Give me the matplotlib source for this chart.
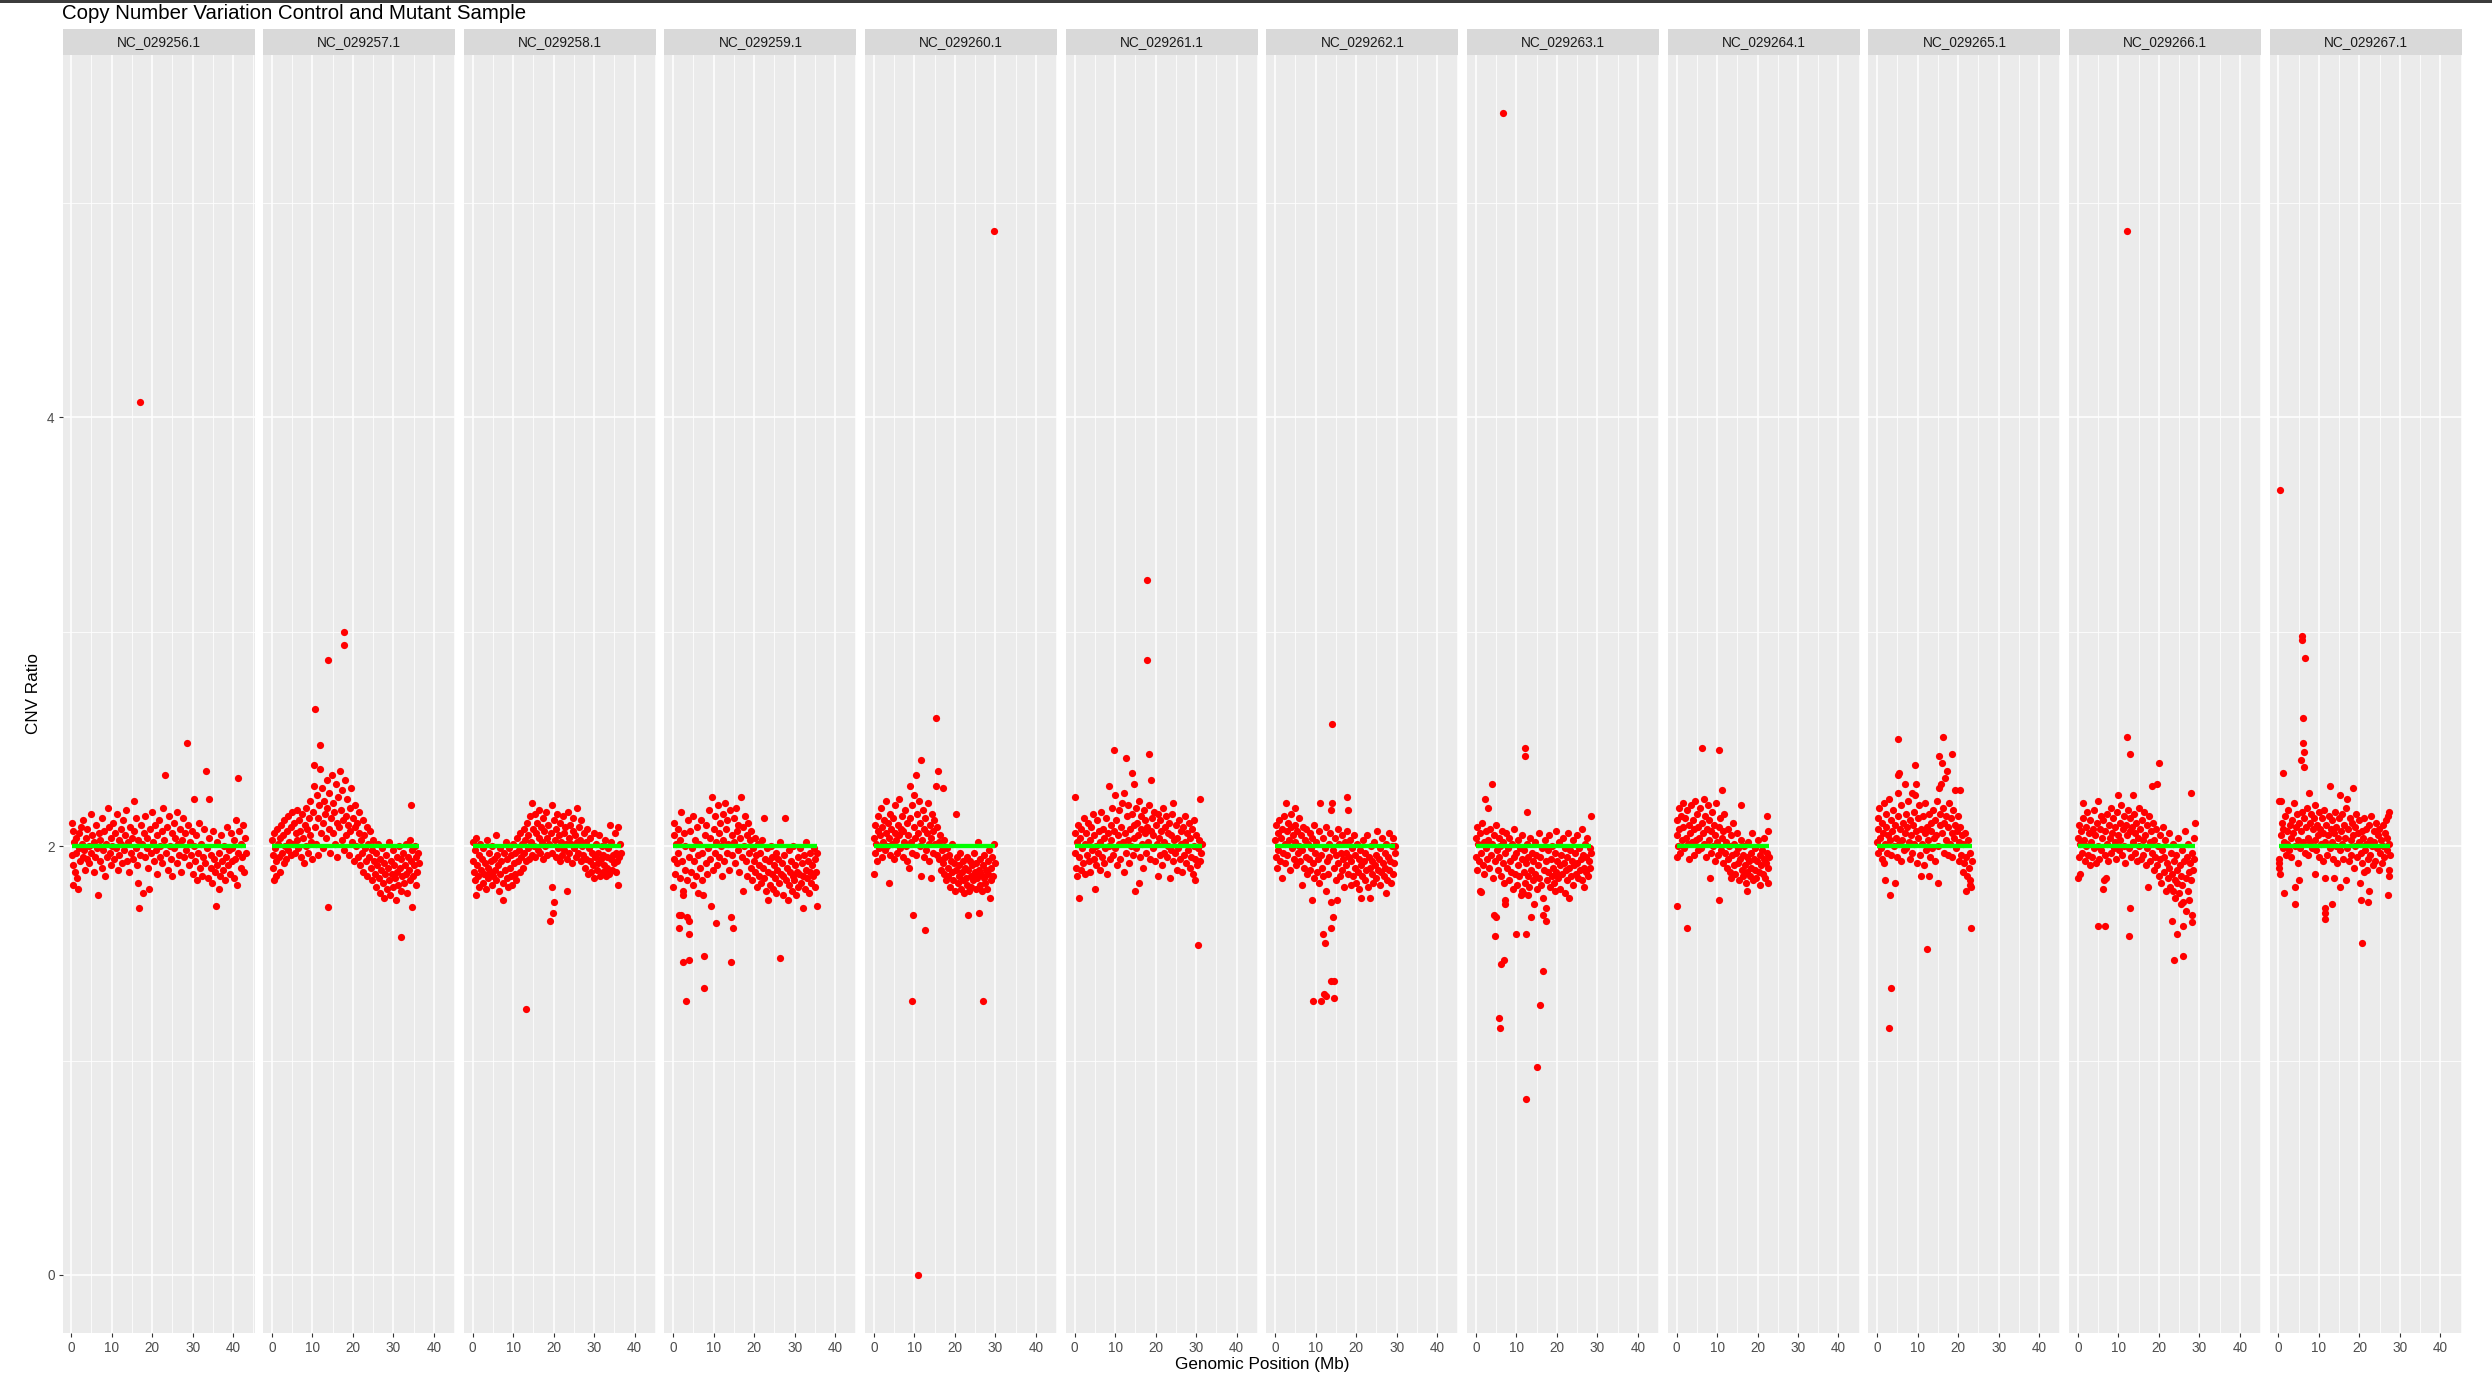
import matplotlib
matplotlib.use("Agg")
import matplotlib.pyplot as plt
from matplotlib.ticker import FixedLocator
from matplotlib.patches import Rectangle

plt.rcParams['font.family'] = ['Liberation Sans', 'DejaVu Sans']

# ---------------- data ----------------
title = "Copy Number Variation Control and Mutant Sample"
x_title = "Genomic Position (Mb)"
y_title = "CNV Ratio"
chromosomes = ["NC_029256.1", "NC_029257.1", "NC_029258.1", "NC_029259.1",
               "NC_029260.1", "NC_029261.1", "NC_029262.1", "NC_029263.1",
               "NC_029264.1", "NC_029265.1", "NC_029266.1", "NC_029267.1"]
x_ticks = [0, 10, 20, 30, 40]
y_ticks = [0, 2, 4]
control_level = 2.0

p256 = [(0.2,2.11),(0.3,1.96),(0.4,2.07),(0.4,1.82),(0.5,1.91),(0.7,2.02),(0.9,1.88),(1.1,2.04),(1.3,1.97),(1.5,1.85),(1.6,1.80),(1.8,2.06),(2.0,1.99),(2.2,1.93),(2.4,2.09),(2.6,2.01),(2.8,1.95),(3.0,2.12),(3.2,1.98),(3.4,1.89),(3.6,2.04),(3.8,1.94),(4.0,2.08),(4.3,2.00),(4.5,1.92),(4.8,2.15),(5.0,1.97),(5.2,2.05),(5.5,1.88),(5.7,2.02),(5.9,1.95),(6.1,2.10),(6.4,1.99),(6.6,1.77),(6.8,2.06),(7.0,1.93),(7.2,2.03),(7.5,1.90),(7.7,2.13),(7.9,1.98),(8.1,2.07),(8.4,1.86),(8.6,2.01),(8.8,1.95),(9.0,2.18),(9.3,2.09),(9.5,1.97),(9.7,2.04),(9.9,1.91),(10.1,2.00),(10.4,2.11),(10.6,1.94),(10.8,2.06),(11.0,1.99),(11.3,2.15),(11.5,1.89),(11.7,2.03),(11.9,1.96),(12.2,2.08),(12.4,2.01),(12.6,1.92),(12.9,2.12),(13.1,1.98),(13.3,2.05),(13.6,2.17),(13.8,1.93),(14.0,2.02),(14.3,1.88),(14.5,2.09),(14.7,1.97),(15.0,2.04),(15.2,1.94),(15.4,2.21),(15.6,2.07),(15.9,1.99),(16.1,2.13),(16.3,1.91),(16.5,2.03),(16.6,1.83),(16.7,1.71),(16.9,1.96),(17.0,4.07),(17.2,2.10),(17.4,2.01),(17.7,1.78),(17.9,2.06),(18.1,1.95),(18.3,2.14),(18.6,1.99),(18.8,2.04),(19.0,1.90),(19.3,1.80),(19.5,2.08),(19.7,1.97),(19.9,2.16),(20.2,2.02),(20.4,1.93),(20.6,2.10),(20.9,1.98),(21.1,2.05),(21.3,1.87),(21.6,2.12),(21.8,2.00),(22.0,1.95),(22.3,2.07),(22.5,1.92),(22.7,2.18),(23.0,2.03),(23.2,2.33),(23.4,1.97),(23.6,2.09),(23.9,1.89),(24.1,2.14),(24.3,2.00),(24.6,1.94),(24.8,2.06),(25.0,1.86),(25.3,2.11),(25.5,1.99),(25.7,2.04),(26.0,1.92),(26.2,2.16),(26.4,2.01),(26.7,1.96),(26.9,2.08),(27.1,1.88),(27.4,2.03),(27.6,2.13),(27.8,1.95),(28.1,2.06),(28.3,1.98),(28.7,2.48),(28.9,2.10),(29.1,1.91),(29.3,2.02),(29.6,1.96),(29.8,2.07),(30.0,1.87),(30.2,2.00),(30.4,2.22),(30.6,1.93),(30.9,2.05),(31.1,1.84),(31.3,1.97),(31.6,2.11),(31.8,1.90),(32.0,2.01),(32.3,1.86),(32.5,1.95),(32.7,2.08),(33.0,1.92),(33.3,2.35),(33.5,1.99),(33.7,1.85),(34.0,2.04),(34.1,2.22),(34.4,1.90),(34.6,1.96),(34.8,1.83),(35.1,2.07),(35.3,1.94),(35.5,1.88),(35.7,1.72),(35.9,2.02),(36.1,1.91),(36.4,1.97),(36.6,1.80),(36.8,1.86),(37.0,2.05),(37.3,1.93),(37.5,1.89),(37.7,2.00),(38.0,1.84),(38.2,1.95),(38.4,2.09),(38.7,1.91),(38.9,1.98),(39.1,1.87),(39.4,2.06),(39.6,1.93),(39.8,1.99),(40.1,1.85),(40.3,2.03),(40.5,1.94),(40.8,2.12),(41.0,1.82),(41.2,2.32),(41.3,1.97),(41.5,2.07),(41.8,1.90),(42.0,2.01),(42.2,1.95),(42.5,2.10),(42.7,1.88),(42.9,2.04),(43.1,1.97)]

p257 = [(0.1,2.03),(0.2,1.96),(0.3,1.90),(0.4,1.84),(0.6,2.06),(0.8,1.99),(1.0,1.93),(1.1,1.86),(1.3,2.08),(1.5,2.01),(1.7,1.95),(1.9,2.04),(2.1,1.88),(2.3,2.10),(2.5,1.97),(2.7,2.05),(2.9,1.92),(3.1,2.12),(3.3,2.00),(3.5,1.94),(3.7,2.07),(3.9,1.98),(4.1,2.14),(4.3,2.02),(4.6,1.96),(4.8,2.09),(5.0,2.16),(5.2,2.01),(5.4,2.11),(5.6,1.97),(5.9,2.06),(6.1,2.17),(6.3,2.03),(6.5,1.99),(6.8,2.12),(7.0,2.07),(7.2,1.95),(7.4,2.15),(7.6,2.04),(7.9,1.92),(8.1,2.10),(8.3,2.18),(8.5,2.00),(8.7,2.08),(8.9,1.97),(9.1,2.13),(9.3,2.05),(9.5,2.21),(9.7,2.02),(9.9,1.94),(10.1,2.16),(10.3,2.28),(10.5,2.38),(10.7,2.64),(10.6,2.09),(10.9,2.01),(11.1,2.24),(11.3,2.13),(11.5,1.96),(11.7,2.19),(11.9,2.47),(12.0,2.36),(12.1,2.06),(12.3,2.27),(12.5,2.11),(12.7,1.99),(12.9,2.21),(13.1,2.15),(13.3,2.04),(13.5,2.31),(13.7,2.18),(13.8,1.715),(13.9,2.87),(14.0,2.08),(14.2,2.25),(14.4,1.97),(14.6,2.13),(14.8,2.33),(15.0,2.20),(15.2,2.06),(15.4,2.16),(15.6,2.01),(15.8,2.29),(16.0,2.11),(16.2,1.95),(16.4,2.23),(16.6,2.09),(16.8,2.35),(17.0,2.17),(17.2,2.03),(17.4,2.26),(17.6,2.12),(17.9,3.00),(17.9,2.94),(17.8,1.98),(18.0,2.31),(18.2,2.14),(18.4,2.05),(18.6,2.22),(18.8,2.10),(19.0,1.96),(19.2,2.18),(19.4,2.07),(19.6,2.27),(19.8,2.02),(20.0,2.13),(20.2,1.93),(20.4,2.09),(20.6,2.19),(20.8,2.00),(21.0,2.11),(21.2,1.95),(21.4,2.06),(21.6,2.16),(21.8,1.91),(22.0,2.03),(22.2,1.97),(22.4,2.12),(22.6,1.88),(22.8,2.05),(23.0,1.99),(23.2,1.93),(23.4,2.09),(23.6,1.86),(23.8,2.01),(24.0,1.95),(24.2,2.07),(24.4,1.90),(24.6,1.98),(24.8,1.84),(25.0,2.03),(25.2,1.93),(25.4,1.87),(25.6,1.97),(25.8,1.81),(26.0,1.91),(26.2,2.01),(26.4,1.85),(26.6,1.94),(26.8,1.78),(27.0,1.89),(27.2,1.99),(27.4,1.83),(27.6,1.92),(27.8,1.76),(28.0,1.87),(28.2,1.96),(28.4,1.80),(28.6,1.90),(28.8,2.02),(29.0,1.84),(29.2,1.77),(29.4,1.93),(29.6,1.87),(29.8,1.98),(30.0,1.81),(30.2,1.91),(30.4,1.85),(30.6,1.75),(30.8,1.95),(31.0,1.88),(31.2,1.82),(31.4,2.00),(31.6,1.90),(31.9,1.575),(31.8,1.79),(32.0,1.94),(32.2,1.86),(32.4,1.97),(32.6,1.83),(32.8,1.91),(33.0,2.01),(33.2,1.87),(33.4,1.78),(33.6,1.95),(33.8,1.89),(34.0,2.03),(34.3,2.19),(34.2,1.84),(34.4,1.93),(34.6,1.715),(34.7,1.98),(34.9,1.86),(35.1,1.91),(35.3,2.00),(35.5,1.82),(35.7,1.95),(35.9,1.88),(36.1,1.97),(36.3,1.92)]

p258 = [(0.1,2.02),(0.2,1.93),(0.3,1.88),(0.5,1.98),(0.7,1.84),(0.8,1.77),(0.9,2.04),(1.1,1.91),(1.3,1.86),(1.5,1.96),(1.7,1.81),(1.9,2.01),(2.1,1.89),(2.3,1.94),(2.5,1.83),(2.7,1.99),(2.9,1.87),(3.1,1.92),(3.3,1.80),(3.5,2.03),(3.7,1.90),(3.9,1.85),(4.1,1.97),(4.3,1.88),(4.5,1.93),(4.7,1.82),(4.9,2.00),(5.1,1.86),(5.3,1.94),(5.5,1.89),(5.7,2.05),(5.9,1.84),(6.1,1.96),(6.3,1.91),(6.5,1.79),(6.7,1.99),(6.9,1.87),(7.1,1.93),(7.4,1.83),(7.6,1.75),(7.8,1.97),(8.0,1.89),(8.2,2.02),(8.4,1.85),(8.6,1.94),(8.8,1.81),(9.0,1.99),(9.2,1.90),(9.4,1.86),(9.6,1.96),(9.8,1.82),(10.0,2.01),(10.2,1.92),(10.4,1.87),(10.6,1.97),(10.8,1.84),(11.0,2.04),(11.2,1.93),(11.4,1.98),(11.6,1.88),(11.8,2.06),(12.0,1.95),(12.2,2.01),(12.4,1.90),(12.6,2.08),(12.8,1.97),(13.1,1.24),(13.0,2.03),(13.2,1.93),(13.4,2.11),(13.6,1.99),(13.8,2.05),(14.0,1.94),(14.2,2.14),(14.4,2.02),(14.6,1.96),(14.8,2.20),(14.9,2.08),(15.1,2.00),(15.3,2.15),(15.5,1.95),(15.7,2.06),(15.9,2.11),(16.1,1.98),(16.3,2.04),(16.5,2.17),(16.7,1.97),(16.9,2.09),(17.1,2.02),(17.3,2.13),(17.5,1.94),(17.7,2.07),(17.9,2.00),(18.1,2.16),(18.3,2.04),(18.5,1.96),(18.7,2.10),(18.9,2.01),(19.2,1.65),(19.7,2.19),(19.7,1.81),(19.9,1.69),(20.0,1.74),(19.4,2.06),(19.6,1.97),(20.1,2.12),(20.3,2.03),(20.5,1.95),(20.7,2.08),(20.9,2.15),(21.1,1.99),(21.3,2.05),(21.5,1.93),(21.7,2.11),(21.9,2.02),(22.1,1.96),(22.3,2.14),(22.5,2.06),(22.7,1.98),(22.9,2.09),(23.2,1.79),(23.1,2.01),(23.3,1.94),(23.5,2.16),(23.7,2.04),(23.9,1.97),(24.1,2.10),(24.3,2.01),(24.5,1.92),(24.7,2.07),(24.9,2.13),(25.1,1.99),(25.3,2.05),(25.5,1.95),(25.7,2.18),(25.9,2.02),(26.1,1.97),(26.3,2.09),(26.5,2.03),(26.7,1.93),(26.9,2.12),(27.1,2.00),(27.3,1.96),(27.5,2.06),(27.7,1.90),(27.9,2.02),(28.1,1.94),(28.3,2.08),(28.5,1.87),(28.7,1.99),(28.9,1.93),(29.1,2.04),(29.3,1.88),(29.5,1.97),(29.7,1.91),(29.9,2.06),(30.1,1.85),(30.3,1.95),(30.5,2.01),(30.7,1.89),(30.9,1.97),(31.1,1.92),(31.3,2.05),(31.5,1.86),(31.7,1.94),(31.9,2.00),(32.1,1.88),(32.3,1.96),(32.5,1.91),(32.7,2.03),(32.9,1.86),(33.1,1.95),(33.3,1.90),(33.5,1.99),(33.7,1.87),(34.0,2.10),(34.1,1.94),(34.3,2.02),(34.5,1.89),(34.7,1.96),(34.9,1.92),(35.1,2.06),(35.3,1.88),(35.5,1.97),(35.7,1.93),(35.9,1.82),(36.0,2.09),(36.2,1.95),(36.4,2.01),(36.6,1.97)]

p259 = [(0.0,1.81),(0.1,2.05),(0.2,1.94),(0.3,2.11),(0.5,1.87),(0.7,2.01),(0.9,1.92),(1.1,2.08),(1.3,1.97),(1.5,1.68),(1.5,1.62),(1.6,1.85),(1.8,2.03),(1.9,2.16),(2.0,1.68),(2.1,1.93),(2.3,1.79),(2.4,1.46),(2.5,1.77),(2.6,2.06),(2.8,1.89),(3.0,2.00),(3.2,1.28),(3.3,1.67),(3.4,1.84),(3.6,2.12),(3.8,1.59),(3.8,1.47),(3.9,1.65),(4.0,1.95),(4.2,2.07),(4.4,1.88),(4.6,1.99),(4.8,1.82),(5.0,2.14),(5.2,1.93),(5.4,2.03),(5.6,1.86),(5.8,2.09),(6.0,1.96),(6.2,1.78),(6.4,2.01),(6.6,1.90),(6.8,2.12),(7.0,1.84),(7.2,1.97),(7.4,1.77),(7.5,1.34),(7.6,1.49),(7.8,2.05),(8.0,1.92),(8.2,2.10),(8.4,1.87),(8.6,1.99),(8.8,2.17),(9.0,1.94),(9.2,2.04),(9.4,1.72),(9.6,2.23),(9.8,1.89),(10.0,2.08),(10.2,1.97),(10.5,1.64),(10.4,2.14),(10.6,2.02),(10.8,1.91),(11.0,2.19),(11.2,2.06),(11.4,1.95),(11.6,2.11),(11.8,2.00),(12.0,1.86),(12.2,2.15),(12.4,2.03),(12.6,1.93),(12.8,2.20),(13.0,2.08),(13.2,1.97),(13.4,2.12),(13.6,2.01),(13.8,1.89),(14.0,2.17),(14.2,1.67),(14.2,1.46),(14.4,2.05),(14.8,1.62),(14.6,1.96),(14.9,2.13),(15.1,2.02),(15.3,1.92),(15.5,2.18),(15.7,2.07),(15.9,1.98),(16.1,2.10),(16.3,1.88),(16.5,2.04),(16.8,2.23),(17.0,1.95),(17.2,1.79),(17.3,2.09),(17.5,2.00),(17.7,2.14),(17.9,1.93),(18.1,2.05),(18.3,1.86),(18.5,2.11),(18.7,1.97),(18.9,2.03),(19.1,1.90),(19.3,2.07),(19.5,1.84),(19.7,1.99),(19.9,1.93),(20.1,2.04),(20.3,1.88),(20.5,1.96),(20.7,1.81),(20.9,2.01),(21.1,1.91),(21.3,1.86),(21.5,1.97),(21.7,1.83),(21.9,2.03),(22.1,1.90),(22.3,2.13),(22.5,1.85),(22.7,1.94),(22.9,1.79),(23.1,1.99),(23.3,1.75),(23.5,1.88),(23.7,1.93),(23.9,1.82),(24.1,2.00),(24.3,1.87),(24.5,1.95),(24.7,1.80),(24.9,1.91),(25.1,1.85),(25.3,1.97),(25.5,1.78),(25.7,1.89),(25.9,1.94),(26.1,1.83),(26.3,1.48),(26.4,2.02),(26.6,1.87),(26.8,1.92),(27.0,1.77),(27.2,1.86),(27.4,1.96),(27.7,2.13),(27.9,1.84),(28.1,1.90),(28.3,1.75),(28.5,1.98),(28.7,1.82),(28.9,1.88),(29.1,1.93),(29.3,1.79),(29.5,1.86),(29.7,2.00),(29.9,1.84),(30.1,1.91),(30.3,1.77),(30.5,1.88),(30.7,1.95),(30.9,1.81),(31.1,1.87),(31.3,1.99),(31.5,1.83),(31.7,1.92),(32.0,1.71),(32.1,1.86),(32.3,1.96),(32.5,1.80),(32.7,1.89),(32.9,2.02),(33.1,1.85),(33.3,1.93),(33.5,1.78),(33.7,1.88),(33.9,1.97),(34.1,1.83),(34.3,1.91),(34.5,1.86),(34.7,1.99),(34.9,1.81),(35.1,1.94),(35.3,1.88),(35.5,1.72),(35.4,1.97)]

p260 = [(0.0,1.87),(0.1,2.04),(0.2,1.97),(0.3,2.10),(0.5,2.01),(0.7,1.93),(0.9,2.07),(1.1,2.14),(1.3,1.99),(1.5,2.05),(1.7,2.18),(1.9,1.95),(2.1,2.09),(2.3,2.02),(2.5,2.12),(2.7,1.98),(2.9,2.06),(3.1,2.21),(3.3,2.00),(3.5,2.11),(3.8,1.83),(3.7,2.04),(3.9,2.15),(4.1,1.96),(4.3,2.08),(4.5,2.01),(4.7,2.13),(4.9,1.94),(5.1,2.06),(5.3,2.19),(5.5,2.03),(5.7,1.97),(5.9,2.10),(6.1,2.05),(6.3,2.22),(6.5,1.99),(6.7,2.08),(6.9,2.14),(7.1,1.95),(7.3,2.07),(7.5,2.02),(7.7,2.17),(7.9,2.00),(8.1,2.11),(8.3,1.93),(8.5,2.05),(8.7,1.90),(8.9,2.28),(8.8,2.13),(9.1,2.02),(9.3,2.19),(9.4,1.28),(9.5,1.97),(9.7,1.68),(9.8,2.09),(10.0,2.24),(10.3,2.33),(10.2,2.04),(10.4,1.96),(10.6,2.15),(10.8,2.06),(11.0,0.0),(11.1,2.21),(11.3,2.00),(11.5,2.11),(11.7,2.40),(11.7,1.86),(11.9,2.03),(12.1,2.17),(12.3,1.95),(12.6,1.61),(12.5,2.08),(12.7,2.13),(12.9,1.98),(13.1,2.06),(13.3,2.20),(13.5,2.01),(13.7,1.93),(13.9,2.10),(14.2,1.85),(14.1,2.04),(14.3,2.15),(14.5,1.97),(14.7,2.07),(14.9,2.12),(15.1,2.01),(15.3,2.60),(15.4,2.28),(15.5,1.96),(15.7,2.09),(15.9,2.35),(16.0,2.02),(16.2,1.94),(16.4,2.05),(16.6,1.89),(16.8,1.98),(17.1,2.27),(17.0,1.92),(17.2,2.03),(17.4,1.87),(17.6,1.95),(17.8,1.84),(18.0,1.99),(18.2,1.90),(18.4,1.86),(18.6,1.96),(18.8,1.81),(19.0,1.93),(19.2,1.88),(19.4,2.01),(19.6,1.84),(19.8,1.92),(20.0,1.79),(20.2,1.89),(20.4,2.15),(20.5,1.95),(20.7,1.83),(20.9,1.91),(21.1,1.86),(21.3,1.97),(21.5,1.80),(21.7,1.88),(21.9,1.93),(22.1,1.84),(22.3,1.78),(22.5,1.90),(22.7,1.85),(22.9,1.95),(23.2,1.68),(23.1,1.82),(23.3,1.89),(23.5,1.79),(23.7,1.93),(23.9,1.86),(24.1,1.81),(24.3,1.91),(24.5,1.84),(24.7,1.97),(24.9,1.88),(25.1,1.80),(25.3,1.92),(25.5,1.85),(25.7,2.02),(26.0,1.69),(25.9,1.89),(26.1,1.94),(26.3,1.82),(26.5,1.87),(26.7,1.79),(26.9,1.91),(27.0,1.28),(27.1,1.85),(27.3,1.96),(27.5,1.83),(27.7,1.89),(27.9,1.80),(28.1,1.93),(28.3,1.87),(28.5,1.98),(28.7,1.76),(28.8,1.84),(29.0,1.90),(29.2,1.95),(29.4,1.86),(29.6,2.01),(29.7,4.87),(29.8,1.92)]

p261 = [(0.0,2.23),(0.1,1.97),(0.2,2.06),(0.3,1.90),(0.5,2.02),(0.7,1.86),(0.9,2.10),(1.2,1.76),(1.1,1.95),(1.3,2.04),(1.5,1.89),(1.7,2.08),(1.9,1.99),(2.1,1.92),(2.3,2.13),(2.5,2.01),(2.7,1.87),(2.9,2.06),(3.1,1.96),(3.3,2.11),(3.5,1.93),(3.7,2.03),(3.9,1.88),(4.1,2.09),(4.3,1.98),(4.5,2.15),(4.7,1.94),(4.9,2.05),(5.1,1.80),(5.2,2.00),(5.4,1.91),(5.6,2.12),(5.8,1.97),(6.0,2.07),(6.2,1.89),(6.4,2.02),(6.6,2.16),(6.8,1.95),(7.0,2.08),(7.2,1.92),(7.4,2.04),(7.6,1.99),(7.8,2.13),(8.0,1.87),(8.2,2.06),(8.4,2.00),(8.6,2.28),(8.7,1.94),(8.9,2.10),(9.1,2.03),(9.3,2.18),(9.5,1.96),(9.8,2.45),(9.7,2.07),(10.0,2.24),(10.1,1.99),(10.3,2.12),(10.5,1.91),(10.7,2.05),(10.9,2.17),(11.1,2.01),(11.3,1.94),(11.5,2.09),(11.7,2.20),(11.9,2.02),(12.1,1.88),(12.3,2.25),(12.4,2.06),(12.6,2.41),(12.7,1.97),(12.9,2.14),(13.1,2.03),(13.3,2.19),(13.5,1.92),(13.7,2.08),(13.9,2.00),(14.1,2.15),(14.3,2.34),(14.4,1.96),(14.7,2.29),(14.6,2.10),(14.8,2.04),(15.0,1.79),(15.1,2.18),(15.3,1.99),(15.5,2.11),(15.7,2.05),(16.0,1.83),(15.9,2.21),(16.1,1.95),(16.3,2.08),(16.5,2.14),(16.7,2.01),(16.9,1.90),(17.1,2.17),(17.3,2.06),(17.5,2.12),(17.7,1.97),(17.9,3.24),(17.9,2.87),(18.0,2.09),(18.3,2.43),(18.2,2.02),(18.4,2.19),(18.6,1.94),(18.8,2.31),(18.9,2.07),(19.1,2.13),(19.3,1.99),(19.5,2.05),(19.7,2.16),(19.9,1.93),(20.1,2.10),(20.3,2.01),(20.5,1.86),(20.6,2.15),(20.8,2.04),(21.0,1.96),(21.2,2.12),(21.4,2.07),(21.6,1.91),(21.8,2.18),(22.0,2.02),(22.2,1.97),(22.4,2.09),(22.6,2.14),(22.8,1.95),(23.0,2.06),(23.2,2.00),(23.4,2.11),(23.6,1.85),(23.7,1.98),(23.9,2.05),(24.1,2.15),(24.4,2.20),(24.3,1.93),(24.6,2.03),(24.8,1.97),(25.0,2.10),(25.2,1.89),(25.4,2.04),(25.6,1.99),(25.8,2.12),(26.0,1.94),(26.2,2.07),(26.4,2.01),(26.6,1.88),(26.8,2.09),(27.0,1.96),(27.2,2.14),(27.4,2.02),(27.6,1.92),(27.8,2.06),(28.0,1.98),(28.2,2.11),(28.4,1.90),(28.6,2.04),(28.8,1.95),(29.0,2.08),(29.2,1.87),(29.4,2.00),(29.7,1.84),(29.6,2.12),(29.8,1.94),(30.0,2.05),(30.2,1.91),(30.4,1.99),(30.6,1.54),(30.7,2.03),(30.9,1.93),(31.1,2.22),(31.2,1.97),(31.4,2.01)]

p262 = [(0.0,2.03),(0.1,1.95),(0.2,2.10),(0.4,1.90),(0.6,2.06),(0.8,1.98),(1.0,2.12),(1.2,1.93),(1.4,2.04),(1.6,1.85),(1.7,2.08),(1.9,1.97),(2.1,2.14),(2.3,2.01),(2.5,1.92),(2.7,2.20),(2.8,2.07),(3.0,1.96),(3.2,2.11),(3.4,2.03),(3.6,1.89),(3.8,2.09),(4.0,2.15),(4.2,1.99),(4.4,2.05),(4.6,1.94),(4.9,2.18),(4.8,2.10),(5.0,2.02),(5.2,1.91),(5.4,2.07),(5.6,1.97),(5.8,2.13),(6.0,2.00),(6.2,1.93),(6.4,2.05),(6.6,1.82),(6.7,1.98),(6.9,2.09),(7.1,1.90),(7.3,2.03),(7.5,1.95),(7.7,2.08),(7.9,1.87),(8.1,2.01),(8.3,1.94),(8.5,2.06),(8.7,1.89),(8.9,1.99),(9.2,1.75),(9.1,2.04),(9.4,1.28),(9.3,1.92),(9.5,2.10),(9.7,1.85),(9.9,1.97),(10.1,2.02),(10.3,1.88),(10.5,1.94),(10.7,2.07),(10.9,1.83),(11.1,2.20),(11.2,1.28),(11.3,1.96),(11.5,1.90),(11.7,2.04),(11.9,1.59),(11.9,1.86),(12.1,1.31),(12.2,1.55),(12.3,1.99),(12.6,1.79),(12.6,1.30),(12.5,2.09),(12.8,1.93),(13.0,1.87),(13.2,2.01),(13.4,1.95),(13.8,2.17),(13.8,1.74),(13.8,1.62),(13.9,1.37),(13.6,2.06),(14.0,2.57),(14.1,2.20),(14.2,1.67),(14.3,1.98),(14.4,1.37),(14.4,1.29),(14.5,1.90),(14.7,2.04),(14.9,1.84),(15.1,1.96),(15.3,1.75),(15.4,2.08),(15.6,1.92),(15.8,2.01),(16.0,1.86),(16.2,1.97),(16.4,2.05),(16.6,1.89),(16.8,1.94),(17.0,1.81),(17.2,2.02),(17.4,1.91),(17.7,2.23),(17.6,1.97),(17.8,2.07),(18.1,2.17),(18.0,1.87),(18.2,1.95),(18.4,2.03),(18.6,1.82),(18.8,1.93),(19.0,1.99),(19.2,1.86),(19.4,2.05),(19.6,1.90),(19.8,1.96),(20.0,1.83),(20.2,2.01),(20.4,1.88),(20.6,1.94),(20.8,1.80),(21.0,1.98),(21.2,1.76),(21.3,1.91),(21.5,1.86),(21.7,2.03),(21.9,1.93),(22.1,1.84),(22.3,1.97),(22.5,1.89),(22.7,2.05),(22.9,1.81),(23.1,1.95),(23.3,1.76),(23.4,1.90),(23.6,2.00),(23.8,1.87),(24.0,1.93),(24.2,1.83),(24.4,2.02),(24.6,1.91),(24.8,1.96),(25.0,1.85),(25.2,2.07),(25.4,1.89),(25.6,1.94),(25.8,1.82),(26.0,1.99),(26.2,1.88),(26.4,2.04),(26.6,1.92),(26.8,1.86),(27.0,1.97),(27.3,1.78),(27.2,1.90),(27.4,2.01),(27.6,1.84),(27.8,1.95),(28.0,2.06),(28.2,1.89),(28.4,1.93),(28.6,1.83),(28.8,2.00),(29.0,1.87),(29.2,2.04),(29.4,1.92),(29.6,1.97),(29.7,2.00)]

p263 = [(0.0,2.04),(0.1,1.95),(0.2,2.09),(0.4,1.89),(0.6,2.01),(0.8,1.93),(1.0,1.79),(1.1,2.06),(1.2,1.785),(1.3,1.97),(1.5,2.11),(1.7,1.91),(1.9,2.02),(2.1,1.87),(2.2,2.22),(2.4,1.99),(2.6,2.07),(2.8,1.94),(3.0,2.18),(3.1,2.03),(3.3,1.90),(3.5,2.08),(3.7,1.96),(3.9,2.01),(4.1,2.29),(4.2,1.85),(4.4,2.05),(4.5,1.68),(4.8,1.58),(4.9,1.67),(4.7,1.93),(5.0,2.10),(5.2,1.98),(5.4,1.89),(5.6,2.04),(5.8,1.20),(5.9,1.15),(5.8,1.95),(6.0,2.00),(6.1,1.45),(6.2,1.86),(6.4,2.07),(6.6,5.42),(6.6,1.92),(6.9,1.47),(6.8,2.02),(7.0,1.83),(7.1,1.75),(7.1,1.73),(7.3,1.97),(7.5,2.06),(7.7,1.90),(7.9,1.99),(8.1,1.84),(8.3,2.04),(8.5,1.93),(8.7,1.88),(8.9,2.01),(9.1,1.80),(9.3,1.95),(9.5,2.08),(9.8,1.59),(9.7,1.87),(9.9,1.97),(10.1,1.82),(10.3,2.03),(10.5,1.91),(10.7,1.86),(10.9,1.99),(11.1,1.77),(11.3,1.79),(11.3,1.94),(11.5,2.05),(11.7,1.78),(11.8,1.88),(12.1,2.42),(12.2,2.46),(12.0,1.98),(12.2,1.83),(12.5,1.59),(12.5,0.82),(12.4,1.92),(12.7,2.16),(12.6,2.01),(12.9,1.77),(12.8,1.86),(13.0,1.95),(13.2,1.81),(13.5,1.67),(13.4,2.04),(13.6,1.89),(13.8,1.97),(14.0,1.84),(14.2,1.93),(14.4,1.73),(14.5,2.02),(14.7,1.87),(14.9,1.96),(15.2,0.97),(15.1,1.80),(15.3,1.91),(15.5,2.06),(15.7,1.85),(15.9,1.26),(15.9,1.95),(16.1,1.82),(16.3,1.99),(16.6,1.68),(16.6,1.76),(16.6,1.42),(16.8,1.89),(17.0,2.03),(17.2,1.65),(17.4,1.71),(17.3,1.93),(17.5,1.84),(17.7,1.98),(17.9,1.88),(18.1,2.05),(18.3,1.81),(18.5,1.94),(18.7,1.86),(18.9,2.00),(19.1,1.90),(19.3,1.83),(19.6,1.79),(19.5,1.97),(19.7,2.07),(19.9,1.88),(20.1,1.93),(20.3,1.85),(20.5,2.02),(20.7,1.91),(20.9,1.80),(21.1,1.96),(21.3,1.87),(21.5,2.04),(21.7,1.92),(21.9,1.78),(22.0,1.99),(22.2,1.89),(22.4,1.84),(22.6,1.95),(22.8,2.06),(23.0,1.76),(23.1,1.90),(23.3,1.98),(23.5,1.86),(23.7,1.93),(23.9,2.03),(24.1,1.82),(24.3,1.91),(24.5,1.97),(24.7,1.87),(24.9,2.05),(25.1,1.92),(25.3,1.85),(25.5,1.99),(25.7,1.89),(25.9,1.94),(26.1,2.08),(26.3,1.84),(26.5,1.96),(26.8,1.81),(26.7,1.90),(26.9,2.01),(27.1,1.88),(27.3,1.95),(27.5,2.04),(27.7,1.86),(27.9,1.93),(28.1,1.99),(28.3,1.90),(28.4,2.14),(28.5,1.97)]

p264 = [(0.0,1.95),(0.1,2.05),(0.2,1.72),(0.2,2.12),(0.4,2.00),(0.5,2.18),(0.7,2.08),(0.9,1.97),(1.1,2.14),(1.3,2.03),(1.5,2.20),(1.7,2.09),(1.9,1.99),(2.1,2.13),(2.3,2.04),(2.5,2.17),(2.7,1.62),(2.8,2.01),(3.0,2.10),(3.2,1.94),(3.4,2.06),(3.6,2.19),(3.8,2.02),(4.0,2.12),(4.2,1.96),(4.4,2.08),(4.6,2.21),(4.8,2.03),(5.0,2.15),(5.2,1.98),(5.4,2.09),(5.6,2.04),(5.8,2.18),(6.0,1.99),(6.2,2.46),(6.3,2.11),(6.5,2.06),(6.7,2.22),(6.9,2.01),(7.1,2.14),(7.3,1.95),(7.5,2.08),(7.7,2.19),(7.9,2.03),(8.1,2.12),(8.3,1.85),(8.4,1.97),(8.6,2.07),(8.8,2.16),(9.0,2.00),(9.2,2.10),(9.4,1.93),(9.6,2.05),(9.8,2.20),(10.0,2.02),(10.2,1.96),(10.4,1.75),(10.5,2.45),(10.6,2.09),(10.8,2.13),(11.0,1.98),(11.3,2.26),(11.2,2.04),(11.4,1.92),(11.6,2.07),(11.8,2.15),(12.0,1.97),(12.2,2.02),(12.4,1.90),(12.6,2.08),(12.8,1.94),(13.0,2.00),(13.2,1.88),(13.4,1.85),(13.5,2.05),(13.7,1.96),(13.9,2.11),(14.1,1.91),(14.3,2.01),(14.5,1.87),(14.7,1.97),(14.9,2.06),(15.1,1.92),(15.3,1.99),(15.5,1.84),(15.7,1.94),(16.0,2.19),(15.9,2.03),(16.1,1.89),(16.3,1.96),(16.5,1.86),(16.7,2.00),(16.9,1.91),(17.1,1.83),(17.3,1.79),(17.3,1.95),(17.5,1.88),(17.7,2.02),(17.9,1.93),(18.1,1.86),(18.3,1.97),(18.5,1.90),(18.7,2.06),(18.9,1.84),(19.1,1.94),(19.3,1.89),(19.5,1.99),(19.7,1.85),(19.9,1.93),(20.1,2.03),(20.3,1.88),(20.5,1.96),(20.7,1.82),(20.9,1.91),(21.1,1.98),(21.3,1.87),(21.5,1.94),(21.7,2.04),(21.9,1.85),(22.1,1.92),(22.4,2.14),(22.3,1.97),(22.5,1.83),(22.6,1.90),(22.7,2.07),(22.8,1.95)]

p265 = [(0.0,2.02),(0.1,2.13),(0.2,1.97),(0.3,2.08),(0.5,2.18),(0.7,2.04),(0.9,1.99),(1.1,2.11),(1.2,1.94),(1.4,2.06),(1.6,1.92),(1.7,2.20),(1.9,2.01),(2.0,1.84),(2.1,2.09),(2.3,2.15),(2.5,1.97),(2.7,2.05),(2.9,2.22),(3.0,1.15),(3.1,1.77),(3.1,2.03),(3.3,1.34),(3.3,2.12),(3.5,1.96),(3.7,2.07),(3.9,2.17),(4.1,2.00),(4.3,1.83),(4.4,2.10),(4.6,2.04),(4.8,1.95),(5.1,2.50),(5.3,2.34),(5.1,2.33),(5.1,2.25),(5.2,2.14),(5.4,2.01),(5.6,2.08),(5.8,1.93),(6.0,2.19),(6.2,2.03),(6.4,2.11),(6.6,1.98),(6.9,2.29),(6.8,2.06),(7.0,2.15),(7.2,1.99),(7.4,2.09),(7.6,2.21),(7.8,2.02),(8.0,1.94),(8.2,2.12),(8.4,2.05),(8.7,2.25),(8.6,1.97),(8.8,2.10),(9.0,2.16),(9.2,2.01),(9.4,2.38),(9.4,2.24),(9.5,2.29),(9.6,2.07),(9.8,1.92),(10.0,2.13),(10.2,2.04),(10.4,2.19),(10.6,1.96),(10.8,1.86),(10.9,2.08),(11.1,2.01),(11.3,2.14),(11.5,1.91),(11.7,2.06),(11.9,2.20),(12.1,1.98),(12.4,1.52),(12.3,2.09),(12.5,2.03),(12.7,1.86),(12.8,2.15),(13.0,1.95),(13.2,2.07),(13.4,2.11),(13.6,1.99),(13.8,2.17),(14.0,2.04),(14.2,1.93),(14.4,2.12),(14.6,2.05),(14.8,2.21),(15.0,1.83),(15.2,2.27),(15.3,2.42),(15.1,2.00),(15.4,2.10),(15.6,2.15),(15.8,2.29),(15.9,2.39),(16.0,2.06),(16.3,2.51),(16.2,2.18),(16.4,1.97),(16.6,2.11),(16.8,2.32),(16.9,2.03),(17.1,2.14),(17.3,2.35),(17.4,1.96),(17.6,2.09),(17.8,2.20),(18.0,2.01),(18.2,2.13),(18.5,2.43),(18.4,2.06),(18.6,1.95),(18.8,2.17),(19.0,2.04),(19.2,2.26),(19.3,2.10),(19.5,1.99),(19.7,2.07),(19.9,2.14),(20.1,2.02),(20.4,2.26),(20.3,1.93),(20.5,2.09),(20.7,1.96),(20.9,2.05),(21.1,1.88),(21.3,2.01),(21.5,1.92),(21.7,2.06),(21.9,1.79),(22.0,1.95),(22.2,1.86),(22.4,2.03),(22.6,1.90),(22.8,1.84),(22.9,1.82),(23.0,1.97),(23.2,1.81),(23.2,1.62),(23.3,1.93)]

p266 = [(0.0,1.85),(0.1,2.04),(0.2,1.95),(0.3,2.10),(0.5,2.01),(0.6,1.87),(0.8,2.07),(1.0,1.97),(1.2,2.20),(1.3,2.13),(1.5,2.03),(1.7,1.93),(1.9,2.09),(2.1,2.00),(2.3,2.16),(2.5,1.96),(2.7,2.06),(2.9,1.91),(3.1,2.12),(3.3,2.02),(3.5,1.95),(3.7,2.08),(3.9,2.17),(4.1,1.99),(4.3,2.05),(4.5,1.92),(4.9,2.21),(4.7,2.11),(4.9,2.00),(5.1,1.63),(5.2,1.94),(5.4,2.08),(5.6,2.14),(5.8,1.98),(6.0,2.04),(6.2,1.80),(6.4,1.84),(6.3,2.12),(6.6,1.63),(6.6,1.96),(6.8,2.07),(7.0,1.85),(7.1,2.15),(7.3,2.01),(7.5,1.93),(7.7,2.10),(7.9,2.04),(8.1,2.18),(8.3,1.97),(8.5,2.06),(8.7,2.13),(8.9,1.99),(9.1,2.09),(9.3,2.02),(9.5,1.94),(9.7,2.16),(10.0,2.24),(9.9,2.05),(10.1,1.98),(10.3,2.11),(10.5,2.03),(10.7,2.19),(10.9,1.96),(11.1,2.08),(11.3,2.14),(11.5,2.00),(11.7,1.92),(11.9,2.10),(12.1,2.51),(12.1,4.87),(12.2,2.05),(12.4,2.17),(12.6,1.58),(12.6,1.99),(12.8,2.43),(12.8,2.07),(13.0,1.71),(13.0,2.13),(13.2,1.95),(13.4,2.09),(13.6,2.24),(13.6,2.02),(13.8,2.15),(14.0,1.97),(14.2,2.06),(14.4,2.11),(14.6,1.93),(14.8,2.04),(15.0,2.18),(15.2,2.00),(15.4,2.08),(15.6,1.94),(15.8,2.12),(16.0,2.03),(16.2,1.96),(16.4,2.16),(16.6,2.05),(16.8,1.91),(17.0,2.10),(17.2,1.99),(17.4,1.81),(17.5,2.14),(17.7,2.02),(17.9,1.93),(18.2,2.28),(18.1,2.07),(18.3,1.97),(18.5,2.11),(18.7,1.89),(18.9,2.03),(19.1,1.95),(19.5,2.29),(19.3,2.08),(19.6,1.91),(19.8,2.00),(20.0,2.39),(20.0,1.86),(20.2,2.05),(20.4,1.94),(20.6,1.83),(20.8,1.98),(21.0,2.09),(21.2,1.88),(21.4,1.95),(21.6,2.03),(21.8,1.79),(22.0,1.92),(22.2,1.85),(22.4,2.06),(22.6,1.90),(22.8,1.81),(23.0,1.97),(23.2,1.65),(23.4,1.79),(23.3,1.87),(23.5,2.01),(23.8,1.47),(23.7,1.93),(23.9,1.84),(24.1,1.76),(24.4,1.59),(24.3,1.96),(24.6,1.83),(24.5,1.89),(24.8,2.04),(25.0,1.78),(25.2,1.91),(25.5,1.73),(25.4,1.86),(25.6,1.98),(25.9,1.49),(26.0,1.63),(26.0,1.74),(25.8,1.82),(26.2,1.93),(26.4,2.07),(26.6,1.85),(26.8,1.70),(27.1,1.79),(27.0,1.95),(27.2,2.01),(27.5,1.75),(27.4,1.88),(27.7,1.92),(27.9,2.25),(28.0,1.84),(28.1,1.68),(28.2,1.645),(28.3,1.97),(28.5,1.89),(28.7,2.04),(28.9,2.11),(28.8,1.94)]

p267 = [(0.2,1.94),(0.25,1.92),(0.25,1.90),(0.3,3.66),(0.25,2.21),(0.4,1.87),(0.5,2.05),(0.7,2.21),(0.8,2.11),(1.0,1.99),(1.1,2.34),(1.2,2.08),(1.3,1.78),(1.4,2.02),(1.6,2.14),(1.8,1.96),(2.0,2.07),(2.2,2.01),(2.4,2.17),(2.6,1.98),(2.8,2.10),(3.0,2.04),(3.2,1.95),(3.4,2.12),(3.6,2.06),(3.8,2.20),(4.0,2.00),(4.1,1.81),(4.2,1.73),(4.3,2.09),(4.5,2.15),(4.7,2.03),(4.9,1.92),(5.0,1.84),(5.1,2.11),(5.3,1.99),(5.6,2.40),(5.7,2.98),(5.7,2.96),(5.5,2.07),(6.0,2.48),(6.1,2.60),(6.2,2.44),(6.4,2.37),(6.5,2.88),(5.8,2.16),(6.0,2.02),(6.3,2.13),(6.6,1.97),(6.8,2.09),(7.0,2.18),(7.2,2.04),(7.4,1.96),(7.6,2.25),(7.7,2.11),(7.9,2.02),(8.1,2.15),(8.3,1.99),(8.5,2.08),(8.7,2.13),(9.0,1.87),(8.9,2.03),(9.1,2.19),(9.3,1.98),(9.5,2.10),(9.7,2.05),(9.9,2.16),(10.1,1.95),(10.3,2.08),(10.5,2.01),(10.7,2.13),(10.9,1.93),(11.1,2.06),(11.3,2.17),(11.5,1.85),(11.5,1.71),(11.5,1.69),(11.5,1.66),(11.6,2.02),(11.8,2.10),(12.0,1.96),(12.2,2.05),(12.4,2.14),(12.6,1.99),(12.8,2.28),(12.9,2.08),(13.2,1.73),(13.1,2.02),(13.3,2.12),(13.6,1.85),(13.5,1.94),(13.7,2.06),(13.9,2.16),(14.1,2.00),(14.3,2.09),(14.5,1.92),(14.7,2.04),(15.1,1.81),(14.9,2.13),(15.3,2.24),(15.2,1.98),(15.4,2.07),(15.6,2.15),(15.8,2.01),(16.0,1.94),(16.2,2.10),(16.4,2.04),(16.6,1.84),(16.7,2.18),(16.9,2.22),(17.0,1.99),(17.2,2.08),(17.4,1.93),(17.6,2.13),(17.8,2.03),(18.0,1.96),(18.3,2.27),(18.2,2.11),(18.4,2.05),(18.6,1.90),(18.8,2.09),(19.0,2.00),(19.2,2.15),(19.4,1.95),(19.6,2.06),(19.8,2.02),(20.1,1.83),(20.0,2.12),(20.4,1.75),(20.6,1.55),(20.3,1.97),(20.5,2.07),(20.7,1.92),(21.0,1.88),(20.9,2.04),(21.1,2.13),(21.3,1.98),(21.5,2.08),(21.8,1.89),(21.7,2.01),(22.2,1.74),(22.4,1.79),(22.0,1.94),(22.3,2.10),(22.5,2.03),(22.7,1.96),(22.9,2.14),(23.1,2.00),(23.3,1.91),(23.5,2.07),(23.7,2.02),(23.9,1.93),(24.1,2.11),(24.3,1.99),(24.5,2.05),(24.7,1.89),(24.9,2.08),(25.1,1.97),(25.3,2.03),(25.5,1.92),(25.7,2.10),(25.9,2.00),(26.1,1.95),(26.3,2.06),(26.5,2.12),(26.7,1.98),(26.9,2.04),(27.1,1.77),(27.2,1.89),(27.3,1.86),(27.0,2.14),(27.2,2.16),(27.4,2.01),(27.6,1.96)]

panels = [p256, p257, p258, p259, p260, p261, p262, p263, p264, p265, p266, p267]

# ---------------- layout ----------------
W, H, DPI = 2492, 1388, 100
fig = plt.figure(figsize=(W / DPI, H / DPI), dpi=DPI)
fig.patch.set_facecolor("white")

# thin dark band at the very top
fig.patches.append(Rectangle((0, 1 - 3 / H), 1, 3 / H, transform=fig.transFigure,
                             facecolor="#3c3c3c", edgecolor="none"))

all_x = [p[0] for pts in panels for p in pts]
all_y = [p[1] for pts in panels for p in pts]
xr = max(all_x) - min(all_x)
yr = max(all_y) - min(all_y)
xlim = (min(all_x) - 0.05 * xr, max(all_x) + 0.05 * xr)
ylim = (min(all_y) - 0.05 * yr, max(all_y) + 0.05 * yr)

left0, pitch, pw = 62.5, 200.66, 192.0
strip_top, panel_top, panel_bottom = 29.0, 55.0, 1333.0

for i, (name, pts) in enumerate(zip(chromosomes, panels)):
    l = left0 + i * pitch
    ax = fig.add_axes([l / W, 1 - panel_bottom / H, pw / W, (panel_bottom - panel_top) / H])
    ax.set_facecolor("#EBEBEB")
    for s in ax.spines.values():
        s.set_visible(False)
    ax.set_xlim(xlim)
    ax.set_ylim(ylim)
    ax.xaxis.set_major_locator(FixedLocator(x_ticks))
    ax.xaxis.set_minor_locator(FixedLocator([5, 15, 25, 35, 45]))
    ax.yaxis.set_major_locator(FixedLocator(y_ticks))
    ax.yaxis.set_minor_locator(FixedLocator([1, 3, 5]))
    ax.set_axisbelow(True)
    ax.grid(which="major", color="white", linewidth=1.1)
    ax.grid(which="minor", color="white", linewidth=0.55)
    ax.tick_params(which="minor", length=0)
    ax.tick_params(which="major", length=3.1, width=0.8, color="#333333",
                   labelsize=9.8, labelcolor="#4D4D4D", pad=2.5)
    if i > 0:
        ax.tick_params(axis="y", left=False, labelleft=False)

    xs = [p[0] for p in pts]
    ys = [p[1] for p in pts]
    ax.scatter(xs, ys, s=27, c="#FF0000", linewidths=0, zorder=2)
    ax.plot([min(xs), max(xs)], [control_level, control_level], color="#00FF00",
            linewidth=3.1, solid_capstyle="butt", zorder=3)

    sax = fig.add_axes([l / W, 1 - panel_top / H, pw / W, (panel_top - strip_top) / H])
    sax.set_facecolor("#D9D9D9")
    sax.set_xticks([])
    sax.set_yticks([])
    for s in sax.spines.values():
        s.set_visible(False)
    sax.text(0.5, 0.5, name, ha="center", va="center", fontsize=9.8,
             color="#1A1A1A", transform=sax.transAxes)

fig.text(left0 / W, 1 - 19 / H, title, ha="left", va="baseline", fontsize=14.7, color="black")
fig.text(33 / W, 1 - 694 / H, y_title, rotation=90, ha="center", va="center",
         fontsize=12.3, color="black")
fig.text((left0 + 11 * pitch + pw + left0) / 2 / W, 1 - 1364 / H, x_title,
         ha="center", va="center", fontsize=12.3, color="black")

fig.savefig("out.png", dpi=DPI, facecolor="white")
